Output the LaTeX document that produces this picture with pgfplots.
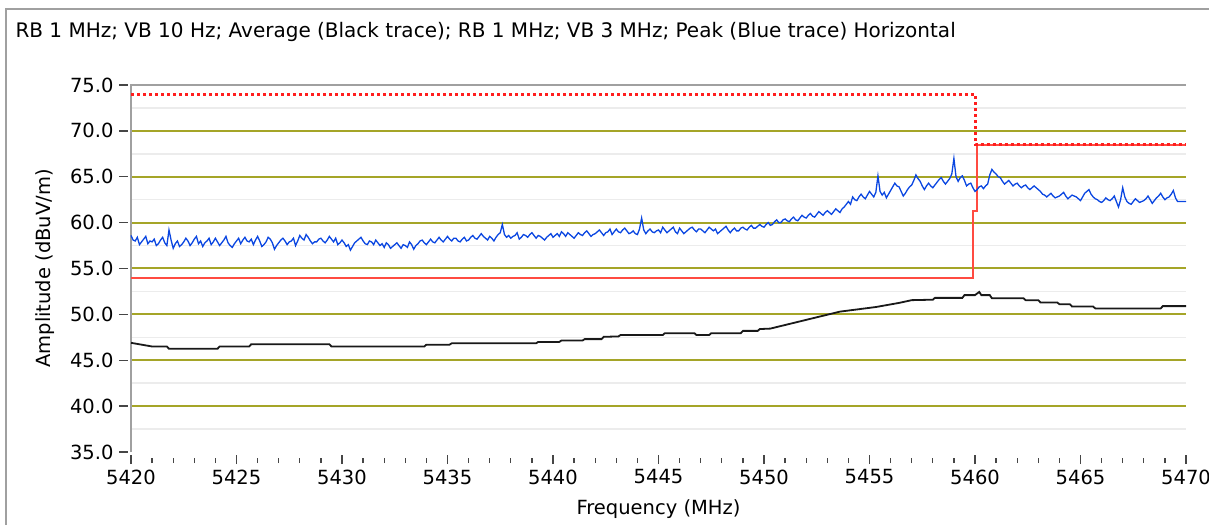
\documentclass[border=0pt]{standalone}
\usepackage{fontspec}
\setmainfont{DejaVu Sans}
\usepackage{pgfplots}
\pgfplotsset{compat=1.18}

\definecolor{olivegrid}{RGB}{165,165,40}
\definecolor{minorgrid}{RGB}{236,236,236}
\definecolor{peakblue}{RGB}{10,70,225}
\definecolor{limred}{RGB}{255,30,30}
\definecolor{avgred}{RGB}{255,75,65}
\definecolor{framegray}{RGB}{160,160,160}
\definecolor{tickgray}{RGB}{70,70,70}

\begin{document}
\begin{tikzpicture}[x=1pt,y=1pt]
\path[use as bounding box] (0,0) rectangle (1209,525);
% outer panel frame
\draw[framegray, line width=2pt] (6,0) -- (6,516) -- (1209,516);
\node[anchor=west, font=\fontsize{20}{23}\selectfont] at (12,493)
  {RB 1 MHz; VB 10 Hz; Average (Black trace); RB 1 MHz; VB 3 MHz; Peak (Blue trace) Horizontal};

\begin{axis}[
  at={(131pt,73pt)}, anchor=south west,
  scale only axis, width=1055pt, height=367pt,
  xmin=5420, xmax=5470, ymin=35, ymax=75,
  xtick={5420,5425,...,5470}, minor x tick num=4,
  ytick={35,40,...,75},
  tick pos=left, tick align=outside,
  major tick length=9pt, minor tick length=5pt,
  xtick style={tickgray, line width=1.3pt, yshift=-3pt},
  minor x tick style={tickgray, line width=1.3pt, yshift=-3pt},
  ytick style={tickgray, line width=1.3pt, xshift=-3pt},
  axis line style={draw=none},
  font=\fontsize{19.5}{22}\selectfont,
  /pgf/number format/assume math mode=true,
  x tick label style={/pgf/number format/1000 sep={}, yshift=-5pt},
  y tick label style={/pgf/number format/.cd, fixed, fixed zerofill, precision=1, /tikz/.cd, xshift=-5pt},
  xlabel={Frequency (MHz)}, ylabel={Amplitude (dBuV/m)},
  every axis x label/.style={at={(axis description cs:0.5,-0.155)}, anchor=center},
  every axis y label/.style={at={(axis description cs:-0.0815,0.5)}, anchor=center, rotate=90},
  clip=false,
]
% horizontal grid: light half-steps, olive major levels
\pgfplotsinvokeforeach{37.5,42.5,47.5,52.5,57.5,62.5,67.5,72.5}{
  \draw[minorgrid, line width=1.5pt] (axis cs:5420,#1) -- (axis cs:5470,#1);}
\pgfplotsinvokeforeach{40,45,50,55,60,65,70}{
  \draw[olivegrid, line width=2pt] (axis cs:5420,#1) -- (axis cs:5470,#1);}
% left axis and top border
\draw[framegray, line width=2pt] (rel axis cs:0,0) -- (rel axis cs:0,1) -- (rel axis cs:1,1);

% average limit (solid red)
\addplot[avgred, line width=2pt] coordinates {
  (5420,54.0) (5459.9,54.0) (5459.9,61.3) (5460.1,61.3) (5460.1,68.5) (5470,68.5)};
% peak limit (dotted red)
\addplot[limred, line width=3pt, dash pattern=on 3pt off 3pt] coordinates {
  (5420,74.0) (5460,74.0) (5460,68.5) (5470,68.5)};

% peak trace (blue), 0.1 MHz steps
\addplot[peakblue, line width=1.3pt] coordinates {
(5420.0,58.6)(5420.1,58.1)(5420.2,58.0)(5420.3,58.4)(5420.4,57.6)(5420.5,57.9)(5420.6,58.2)(5420.7,58.5)(5420.8,57.7)(5420.9,58.0)
(5421.0,57.9)(5421.1,58.2)(5421.2,57.5)(5421.3,57.7)(5421.4,58.1)(5421.5,58.4)(5421.6,57.8)(5421.7,57.5)(5421.8,59.2)(5421.9,58.1)
(5422.0,57.2)(5422.1,57.7)(5422.2,58.0)(5422.3,57.4)(5422.4,57.6)(5422.5,57.9)(5422.6,58.3)(5422.7,58.0)(5422.8,57.5)(5422.9,57.8)
(5423.0,58.2)(5423.1,58.5)(5423.2,57.7)(5423.3,58.0)(5423.4,57.4)(5423.5,57.8)(5423.6,58.0)(5423.7,58.3)(5423.8,57.6)(5423.9,57.9)
(5424.0,58.3)(5424.1,57.9)(5424.2,57.5)(5424.3,57.8)(5424.4,58.1)(5424.5,58.5)(5424.6,57.8)(5424.7,57.5)(5424.8,57.3)(5424.9,57.7)
(5425.0,58.0)(5425.1,58.3)(5425.2,57.7)(5425.3,58.1)(5425.4,58.4)(5425.5,58.0)(5425.6,57.9)(5425.7,58.2)(5425.8,57.6)(5425.9,58.1)
(5426.0,58.5)(5426.1,58.0)(5426.2,57.4)(5426.3,57.6)(5426.4,57.9)(5426.5,58.4)(5426.6,58.2)(5426.7,57.8)(5426.8,57.1)(5426.9,57.5)
(5427.0,57.8)(5427.1,58.1)(5427.2,58.3)(5427.3,58.0)(5427.4,57.6)(5427.5,57.9)(5427.6,58.0)(5427.7,58.3)(5427.8,57.5)(5427.9,58.0)
(5428.0,58.6)(5428.1,58.3)(5428.2,58.1)(5428.3,58.7)(5428.4,58.4)(5428.5,58.0)(5428.6,57.7)(5428.7,57.9)(5428.8,57.9)(5428.9,58.2)
(5429.0,58.3)(5429.1,58.0)(5429.2,57.8)(5429.3,58.1)(5429.4,58.5)(5429.5,58.2)(5429.6,57.9)(5429.7,58.3)(5429.8,57.6)(5429.9,57.8)
(5430.0,58.1)(5430.1,57.8)(5430.2,57.4)(5430.3,57.6)(5430.4,57.0)(5430.5,57.4)(5430.6,57.8)(5430.7,58.0)(5430.8,58.2)(5430.9,58.4)
(5431.0,58.0)(5431.1,57.7)(5431.2,57.6)(5431.3,58.0)(5431.4,57.9)(5431.5,57.6)(5431.6,58.1)(5431.7,57.8)(5431.8,57.5)(5431.9,57.7)
(5432.0,57.3)(5432.1,57.8)(5432.2,57.6)(5432.3,57.2)(5432.4,57.4)(5432.5,57.6)(5432.6,57.8)(5432.7,57.5)(5432.8,57.2)(5432.9,57.6)
(5433.0,57.5)(5433.1,57.3)(5433.2,57.9)(5433.3,57.6)(5433.4,57.1)(5433.5,57.5)(5433.6,57.7)(5433.7,58.0)(5433.8,58.1)(5433.9,57.8)
(5434.0,57.6)(5434.1,57.9)(5434.2,58.2)(5434.3,57.9)(5434.4,57.8)(5434.5,58.1)(5434.6,58.4)(5434.7,58.1)(5434.8,57.9)(5434.9,58.2)
(5435.0,58.5)(5435.1,58.2)(5435.2,58.0)(5435.3,58.3)(5435.4,58.3)(5435.5,58.0)(5435.6,57.9)(5435.7,58.2)(5435.8,58.4)(5435.9,58.0)
(5436.0,58.1)(5436.1,58.4)(5436.2,58.6)(5436.3,58.3)(5436.4,58.2)(5436.5,58.5)(5436.6,58.8)(5436.7,58.5)(5436.8,58.3)(5436.9,58.1)
(5437.0,58.5)(5437.1,58.3)(5437.2,58.0)(5437.3,58.4)(5437.4,58.7)(5437.5,58.9)(5437.6,59.8)(5437.7,58.7)(5437.8,58.4)(5437.9,58.6)
(5438.0,58.3)(5438.1,58.5)(5438.2,58.6)(5438.3,58.9)(5438.4,58.2)(5438.5,58.4)(5438.6,58.7)(5438.7,58.6)(5438.8,58.4)(5438.9,58.7)
(5439.0,58.9)(5439.1,58.6)(5439.2,58.3)(5439.3,58.6)(5439.4,58.5)(5439.5,58.3)(5439.6,58.1)(5439.7,58.4)(5439.8,58.6)(5439.9,58.8)
(5440.0,58.4)(5440.1,58.6)(5440.2,58.8)(5440.3,58.5)(5440.4,59.0)(5440.5,58.8)(5440.6,58.5)(5440.7,58.9)(5440.8,58.7)(5440.9,58.5)
(5441.0,58.3)(5441.1,58.6)(5441.2,58.9)(5441.3,58.7)(5441.4,58.6)(5441.5,58.9)(5441.6,59.1)(5441.7,58.8)(5441.8,58.5)(5441.9,58.7)
(5442.0,58.8)(5442.1,59.0)(5442.2,59.2)(5442.3,58.9)(5442.4,58.6)(5442.5,58.9)(5442.6,59.0)(5442.7,59.3)(5442.8,58.7)(5442.9,59.0)
(5443.0,59.3)(5443.1,59.0)(5443.2,58.9)(5443.3,59.2)(5443.4,59.4)(5443.5,59.1)(5443.6,58.8)(5443.7,58.9)(5443.8,59.1)(5443.9,58.8)
(5444.0,58.7)(5444.1,59.3)(5444.2,60.5)(5444.3,59.2)(5444.4,58.8)(5444.5,59.1)(5444.6,59.3)(5444.7,59.0)(5444.8,58.9)(5444.9,59.1)
(5445.0,59.2)(5445.1,58.9)(5445.2,59.5)(5445.3,59.2)(5445.4,58.9)(5445.5,59.1)(5445.6,59.3)(5445.7,59.5)(5445.8,59.0)(5445.9,58.8)
(5446.0,59.4)(5446.1,59.1)(5446.2,58.8)(5446.3,59.0)(5446.4,59.2)(5446.5,59.4)(5446.6,59.5)(5446.7,59.2)(5446.8,59.0)(5446.9,59.3)
(5447.0,59.3)(5447.1,59.1)(5447.2,58.9)(5447.3,59.2)(5447.4,59.5)(5447.5,59.3)(5447.6,59.1)(5447.7,59.3)(5447.8,58.8)(5447.9,59.0)
(5448.0,59.2)(5448.1,59.4)(5448.2,59.6)(5448.3,59.2)(5448.4,58.9)(5448.5,59.2)(5448.6,59.4)(5448.7,59.1)(5448.8,59.1)(5448.9,59.4)
(5449.0,59.5)(5449.1,59.3)(5449.2,59.2)(5449.3,59.5)(5449.4,59.7)(5449.5,59.4)(5449.6,59.4)(5449.7,59.6)(5449.8,59.8)(5449.9,59.6)
(5450.0,59.5)(5450.1,59.8)(5450.2,60.0)(5450.3,59.7)(5450.4,59.8)(5450.5,60.1)(5450.6,60.3)(5450.7,60.0)(5450.8,60.0)(5450.9,60.3)
(5451.0,60.4)(5451.1,60.2)(5451.2,60.1)(5451.3,60.4)(5451.4,60.6)(5451.5,60.3)(5451.6,60.2)(5451.7,60.5)(5451.8,60.8)(5451.9,60.6)
(5452.0,60.5)(5452.1,60.8)(5452.2,61.0)(5452.3,60.7)(5452.4,60.6)(5452.5,60.9)(5452.6,61.2)(5452.7,61.0)(5452.8,60.8)(5452.9,61.1)
(5453.0,61.3)(5453.1,61.1)(5453.2,60.9)(5453.3,61.2)(5453.4,61.5)(5453.5,61.3)(5453.6,61.1)(5453.7,61.5)(5453.8,61.7)(5453.9,62.0)
(5454.0,62.3)(5454.1,62.0)(5454.2,62.8)(5454.3,62.5)(5454.4,62.4)(5454.5,62.8)(5454.6,63.1)(5454.7,62.8)(5454.8,62.6)(5454.9,63.0)
(5455.0,63.4)(5455.1,63.1)(5455.2,62.8)(5455.3,63.3)(5455.4,65.1)(5455.5,63.4)(5455.6,63.0)(5455.7,63.3)(5455.8,62.7)(5455.9,63.1)
(5456.0,63.5)(5456.1,63.9)(5456.2,64.3)(5456.3,64.0)(5456.4,63.9)(5456.5,63.4)(5456.6,62.9)(5456.7,63.2)(5456.8,63.6)(5456.9,63.9)
(5457.0,64.1)(5457.1,64.6)(5457.2,65.2)(5457.3,64.8)(5457.4,64.5)(5457.5,64.0)(5457.6,63.6)(5457.7,64.0)(5457.8,64.3)(5457.9,64.0)
(5458.0,63.8)(5458.1,64.1)(5458.2,64.4)(5458.3,64.7)(5458.4,64.9)(5458.5,64.5)(5458.6,64.2)(5458.7,64.5)(5458.8,64.8)(5458.9,65.3)
(5459.0,67.0)(5459.1,65.0)(5459.2,64.5)(5459.3,64.9)(5459.4,65.1)(5459.5,64.6)(5459.6,64.0)(5459.7,64.2)(5459.8,64.3)(5459.9,63.8)
(5460.0,63.4)(5460.1,63.6)(5460.2,63.9)(5460.3,64.0)(5460.4,63.7)(5460.5,64.0)(5460.6,64.2)(5460.7,65.2)(5460.8,65.8)(5460.9,65.5)
(5461.0,65.3)(5461.1,65.0)(5461.2,64.9)(5461.3,64.5)(5461.4,64.2)(5461.5,64.4)(5461.6,64.6)(5461.7,64.3)(5461.8,64.0)(5461.9,64.2)
(5462.0,64.3)(5462.1,64.0)(5462.2,63.8)(5462.3,64.0)(5462.4,64.1)(5462.5,63.8)(5462.6,63.6)(5462.7,63.8)(5462.8,64.0)(5462.9,63.8)
(5463.0,63.6)(5463.1,63.4)(5463.2,63.1)(5463.3,63.0)(5463.4,62.8)(5463.5,63.0)(5463.6,63.2)(5463.7,62.9)(5463.8,62.7)(5463.9,62.8)
(5464.0,62.9)(5464.1,63.1)(5464.2,63.3)(5464.3,62.9)(5464.4,62.6)(5464.5,62.8)(5464.6,63.0)(5464.7,62.9)(5464.8,62.8)(5464.9,62.6)
(5465.0,62.4)(5465.1,62.8)(5465.2,63.2)(5465.3,63.4)(5465.4,63.6)(5465.5,63.1)(5465.6,62.8)(5465.7,62.6)(5465.8,62.5)(5465.9,62.3)
(5466.0,62.2)(5466.1,62.4)(5466.2,62.7)(5466.3,62.5)(5466.4,62.4)(5466.5,62.6)(5466.6,62.9)(5466.7,62.3)(5466.8,61.7)(5466.9,62.5)
(5467.0,63.8)(5467.1,62.8)(5467.2,62.3)(5467.3,62.1)(5467.4,62.0)(5467.5,62.3)(5467.6,62.6)(5467.7,62.4)(5467.8,62.2)(5467.9,62.3)
(5468.0,62.4)(5468.1,62.6)(5468.2,62.9)(5468.3,62.5)(5468.4,62.1)(5468.5,62.4)(5468.6,62.7)(5468.7,62.9)(5468.8,63.2)(5468.9,62.8)
(5469.0,62.5)(5469.1,62.7)(5469.2,62.8)(5469.3,63.1)(5469.4,63.5)(5469.5,62.7)(5469.6,62.3)(5469.7,62.3)(5469.8,62.3)(5469.9,62.3)
(5470.0,62.3)};

% average trace (black)
\addplot[black!90, line width=1.8pt] coordinates {
(5420,46.9)(5420.5,46.7)(5421,46.5)(5421.7,46.5)(5421.8,46.25)(5424.1,46.25)
(5424.2,46.5)(5425.6,46.5)(5425.7,46.75)(5429.4,46.75)(5429.5,46.5)(5433.9,46.5)
(5434,46.7)(5435.1,46.7)(5435.2,46.85)(5439.2,46.85)(5439.3,47.0)(5440.3,47.0)
(5440.4,47.15)(5441.4,47.15)(5441.5,47.3)(5442.3,47.3)(5442.4,47.55)(5443.1,47.6)
(5443.2,47.75)(5445.2,47.75)(5445.3,47.95)(5446.7,47.95)(5446.8,47.75)(5447.4,47.75)
(5447.5,47.95)(5448.9,47.95)(5449,48.2)(5449.7,48.2)(5449.8,48.4)(5450.3,48.45)
(5453.6,50.3)(5455.3,50.8)(5456.4,51.25)(5457,51.55)(5458,51.6)(5458.1,51.8)
(5459.4,51.8)(5459.5,52.1)(5460,52.1)(5460.2,52.45)(5460.3,52.1)(5460.7,52.1)
(5460.8,51.75)(5462.3,51.75)(5462.4,51.55)(5463,51.55)(5463.1,51.3)(5463.9,51.3)
(5464,51.1)(5464.5,51.1)(5464.6,50.85)(5465.6,50.85)(5465.7,50.65)(5468.8,50.65)
(5468.9,50.9)(5470,50.9)};
\end{axis}
\end{tikzpicture}
\end{document}
